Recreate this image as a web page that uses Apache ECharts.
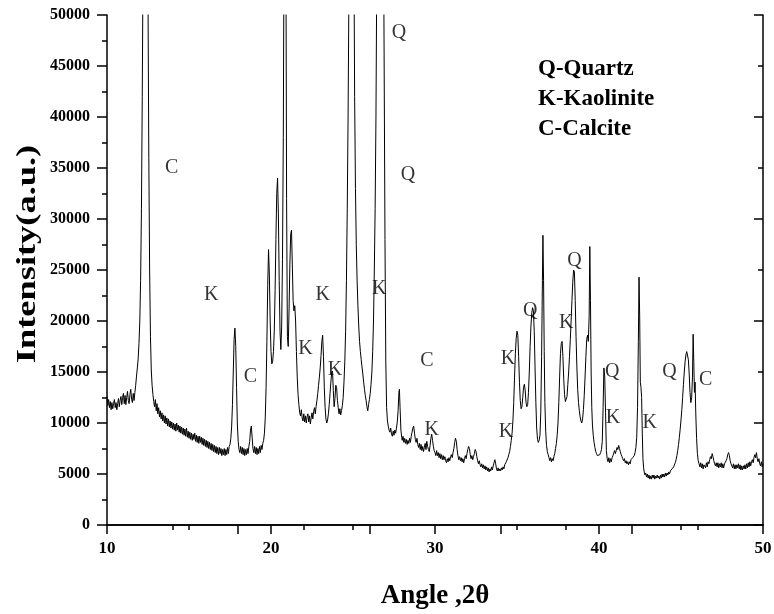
<!DOCTYPE html>
<html>
<head>
<meta charset="utf-8">
<script src="https://cdn.jsdelivr.net/npm/echarts@6/dist/echarts.min.js"></script>
<style>
  html, body { margin: 0; padding: 0; background: #fff; }
  #chart { width: 774px; height: 614px; }
</style>
</head>
<body>
<div id="chart"></div>
<script>
// XRD scan, 2θ (degrees) vs intensity (counts), split by angle range
const scan10to20 = [
  [10.00,12600],[10.05,11700],[10.10,12300],[10.15,11500],[10.20,12100],[10.25,11300],[10.30,12000],[10.35,11400],
  [10.40,11900],[10.45,12300],[10.50,11500],[10.55,12000],[10.60,11300],[10.65,11900],[10.70,12400],[10.75,11600],
  [10.80,12200],[10.85,12600],[10.90,11800],[10.95,12500],[11.00,12900],[11.05,11900],[11.10,12700],[11.15,11800],
  [11.20,12500],[11.25,13100],[11.30,12200],[11.35,11900],[11.40,12800],[11.45,13300],[11.50,12300],[11.55,12000],
  [11.60,12900],[11.65,12200],[11.70,13000],[11.75,13700],[11.80,14600],[11.85,15400],[11.90,16300],[11.95,17800],
  [12.00,20000],[12.05,24000],[12.10,31000],[12.15,42000],[12.20,56000],[12.28,78000],[12.36,85000],[12.44,72000],
  [12.50,52000],[12.55,36000],[12.60,25000],[12.65,18500],[12.70,15200],[12.75,13700],[12.80,12800],[12.85,12100],
  [12.90,11600],[12.95,12300],[13.00,11200],[13.05,11900],[13.10,10900],[13.15,11500],[13.20,10600],[13.25,11200],
  [13.30,10400],[13.35,11000],[13.40,10200],[13.45,10800],[13.50,10000],[13.55,10700],[13.60,9900],[13.65,10500],
  [13.70,9700],[13.75,10400],[13.80,9600],[13.85,10200],[13.90,9500],[13.95,10100],[14.00,9400],[14.05,10000],
  [14.10,9300],[14.15,9900],[14.20,9200],[14.25,10000],[14.30,9300],[14.35,9800],[14.40,9100],[14.45,9700],
  [14.50,9000],[14.55,9600],[14.60,8900],[14.65,9500],[14.70,8800],[14.75,9400],[14.80,8700],[14.85,9500],
  [14.90,8600],[14.95,9200],[15.00,8500],[15.05,9100],[15.10,8400],[15.15,9000],[15.20,8300],[15.25,8900],
  [15.30,8400],[15.35,9000],[15.40,8200],[15.45,8800],[15.50,8100],[15.55,8700],[15.60,8000],[15.65,8700],
  [15.70,8100],[15.75,8600],[15.80,7900],[15.85,8500],[15.90,7800],[15.95,8400],[16.00,7700],[16.05,8300],
  [16.10,7600],[16.15,8200],[16.20,7500],[16.25,8100],[16.30,7400],[16.35,8000],[16.40,7300],[16.45,7900],
  [16.50,7200],[16.55,7800],[16.60,7100],[16.65,7700],[16.70,7000],[16.75,7600],[16.80,6900],[16.85,7600],
  [16.90,7000],[16.95,7500],[17.00,6800],[17.05,7400],[17.10,6900],[17.15,7500],[17.20,6800],[17.25,7400],
  [17.30,6900],[17.35,7600],[17.40,7000],[17.45,7700],[17.50,7900],[17.55,8500],[17.60,9600],[17.65,11800],
  [17.70,15000],[17.75,18200],[17.80,19300],[17.85,17500],[17.90,13500],[17.95,9800],[18.00,8200],[18.05,7400],
  [18.10,7100],[18.15,7700],[18.20,7000],[18.25,7600],[18.30,6900],[18.35,7500],[18.40,6800],[18.45,7400],
  [18.50,6900],[18.55,7500],[18.60,7000],[18.65,7700],[18.70,8200],[18.75,9300],[18.80,9700],[18.85,8600],
  [18.90,7500],[18.95,7100],[19.00,7700],[19.05,7000],[19.10,7600],[19.15,6900],[19.20,7500],[19.25,7000],
  [19.30,7700],[19.35,7100],[19.40,7800],[19.45,7400],[19.50,8000],[19.55,8300],[19.60,9000],[19.65,10500],
  [19.70,13500],[19.75,18000],[19.80,23500],[19.85,27000],[19.90,24500],[19.95,20000]
];
const scan20to30 = [
  [20.00,17000],[20.05,15800],[20.10,16000],[20.15,17000],[20.20,19000],[20.25,23000],[20.30,28000],[20.35,32500],
  [20.40,34000],[20.45,30500],[20.50,24000],[20.55,19000],[20.60,17200],[20.65,19500],[20.70,26000],[20.75,38000],
  [20.80,60000],[20.85,80000],[20.90,62000],[20.95,32000],[21.00,18500],[21.05,17500],[21.10,21000],[21.15,25500],
  [21.20,28500],[21.25,28900],[21.30,25500],[21.35,22000],[21.40,21000],[21.45,21500],[21.50,20000],[21.55,17000],
  [21.60,14500],[21.65,12800],[21.70,11800],[21.75,11000],[21.80,10700],[21.85,11300],[21.90,10500],[21.95,10200],
  [22.00,10900],[22.05,10100],[22.10,10700],[22.15,10000],[22.20,10600],[22.25,10900],[22.30,10100],[22.35,10700],
  [22.40,9900],[22.45,10500],[22.50,11000],[22.55,10400],[22.60,11100],[22.65,11500],[22.70,10900],[22.75,11600],
  [22.80,12200],[22.85,12900],[22.90,13700],[22.95,14500],[23.00,15400],[23.05,16600],[23.10,18000],[23.15,18600],
  [23.20,16500],[23.25,13500],[23.30,11500],[23.35,10400],[23.40,10000],[23.45,10300],[23.50,10900],[23.55,11800],
  [23.60,12900],[23.65,14000],[23.70,14900],[23.75,15100],[23.80,13200],[23.85,11600],[23.90,12400],[23.95,13700],
  [24.00,13500],[24.05,12200],[24.10,11500],[24.15,10900],[24.20,11400],[24.25,10800],[24.30,11200],[24.35,11700],
  [24.40,12500],[24.45,14000],[24.50,16000],[24.55,19000],[24.60,24000],[24.65,31000],[24.70,40000],[24.75,52000],
  [24.82,70000],[24.90,82000],[24.98,76000],[25.05,58000],[25.10,42000],[25.15,33000],[25.20,27500],[25.25,24000],
  [25.30,21500],[25.35,19500],[25.40,18000],[25.45,17000],[25.50,16200],[25.55,15500],[25.60,14800],[25.65,14000],
  [25.70,13300],[25.75,12700],[25.80,12200],[25.85,11600],[25.90,11200],[25.95,11800],[26.00,12300],[26.05,12900],
  [26.10,13800],[26.15,15000],[26.20,17000],[26.25,20000],[26.30,25000],[26.35,31000],[26.40,40000],[26.45,54000],
  [26.55,90000],[26.65,110000],[26.75,95000],[26.85,62000],[26.90,45000],[26.95,28000],[27.00,16000],[27.05,11500],
  [27.10,10200],[27.15,9700],[27.20,9300],[27.25,9100],[27.30,9500],[27.35,8900],[27.40,8700],[27.45,9200],
  [27.50,8800],[27.55,9300],[27.60,9000],[27.65,9500],[27.70,10100],[27.75,11200],[27.80,13000],[27.83,13300],
  [27.87,11500],[27.92,9300],[27.97,8600],[28.00,8300],[28.05,8700],[28.10,8100],[28.15,8500],[28.20,8000],
  [28.25,8400],[28.30,7900],[28.35,8300],[28.40,8000],[28.45,8500],[28.50,8100],[28.55,8700],[28.60,9100],
  [28.65,9500],[28.70,9700],[28.75,9000],[28.80,8400],[28.85,8100],[28.90,8500],[28.95,7900],[29.00,7600],
  [29.05,8000],[29.10,7400],[29.15,7900],[29.20,7300],[29.25,7700],[29.30,7200],[29.35,7600],[29.40,8000],
  [29.45,7400],[29.50,8200],[29.55,7700],[29.60,7400],[29.65,7200],[29.70,7800],[29.75,8500],[29.80,8900],
  [29.85,8300],[29.90,7700],[29.95,7300]
];
const scan30to40 = [
  [30.00,7100],[30.05,6800],[30.10,7300],[30.15,6800],[30.20,7100],[30.25,6600],[30.30,7000],[30.35,6500],
  [30.40,6900],[30.45,6400],[30.50,6800],[30.55,6400],[30.60,6700],[30.65,6300],[30.70,6100],[30.75,6500],
  [30.80,6200],[30.85,6600],[30.90,6300],[30.95,6700],[31.00,6900],[31.05,6600],[31.10,7100],[31.15,7500],
  [31.20,8100],[31.25,8500],[31.30,8200],[31.35,7400],[31.40,6800],[31.45,6400],[31.50,6700],[31.55,6300],
  [31.60,6600],[31.65,6200],[31.70,6500],[31.75,6100],[31.80,6500],[31.85,6800],[31.90,6500],[31.95,7000],
  [32.00,7400],[32.05,7700],[32.10,7500],[32.15,6900],[32.20,6500],[32.25,6800],[32.30,6400],[32.35,6700],
  [32.40,7000],[32.45,7400],[32.50,7200],[32.55,6700],[32.60,6300],[32.65,6000],[32.70,6300],[32.75,5900],
  [32.80,5700],[32.85,6000],[32.90,5600],[32.95,5900],[33.00,5500],[33.05,5800],[33.10,5400],[33.15,5700],
  [33.20,5300],[33.25,5600],[33.30,5200],[33.35,5500],[33.40,5300],[33.45,5700],[33.50,5400],[33.55,5800],
  [33.60,6100],[33.65,6400],[33.70,6000],[33.75,5500],[33.80,5300],[33.85,5600],[33.90,5300],[33.95,5500],
  [34.00,5300],[34.05,5600],[34.10,5400],[34.15,5700],[34.20,5500],[34.25,5900],[34.30,5800],[34.35,6200],
  [34.40,6100],[34.45,6600],[34.50,6900],[34.55,7200],[34.60,7700],[34.65,8300],[34.70,9000],[34.75,10200],
  [34.80,12000],[34.85,14500],[34.90,16800],[34.95,18300],[35.00,19000],[35.05,18600],[35.10,16500],[35.15,14000],
  [35.20,12200],[35.25,11400],[35.30,11600],[35.35,12500],[35.40,13500],[35.45,13800],[35.50,13200],[35.55,12000],
  [35.60,11600],[35.65,11800],[35.70,13000],[35.75,15000],[35.80,17500],[35.85,19500],[35.90,20800],[35.95,21300],
  [36.00,21000],[36.05,19000],[36.10,15500],[36.15,12000],[36.20,9500],[36.25,8400],[36.30,8100],[36.35,8300],
  [36.40,8800],[36.45,11000],[36.50,16500],[36.55,24000],[36.58,28400],[36.62,24000],[36.66,17000],[36.70,12000],
  [36.75,9200],[36.80,7800],[36.85,7200],[36.90,6900],[36.95,6600],[37.00,6300],[37.05,6600],[37.10,6200],
  [37.15,6500],[37.20,6300],[37.25,6700],[37.30,7000],[37.35,7500],[37.40,8000],[37.45,8800],[37.50,10000],
  [37.55,12000],[37.60,14500],[37.65,16800],[37.70,17800],[37.75,18000],[37.80,16500],[37.85,14300],[37.90,12800],
  [37.95,12100],[38.00,12000],[38.05,12600],[38.10,13800],[38.15,15000],[38.20,16500],[38.25,18200],[38.30,20000],
  [38.35,22000],[38.40,23800],[38.45,25000],[38.50,24800],[38.55,22000],[38.60,18500],[38.65,15500],[38.70,13300],
  [38.75,12000],[38.80,11200],[38.85,10600],[38.90,10200],[38.95,10000],[39.00,10400],[39.05,11300],[39.10,12700],
  [39.15,14500],[39.20,16500],[39.25,18200],[39.30,18600],[39.35,18000],[39.40,20500],[39.44,27300],[39.48,22000],
  [39.52,15000],[39.56,11500],[39.60,9800],[39.65,8800],[39.70,8100],[39.75,7600],[39.80,7200],[39.85,7000],
  [39.90,6800],[39.95,6900]
];
const scan40to50 = [
  [40.00,6700],[40.05,6900],[40.10,7100],[40.15,7400],[40.20,8200],[40.25,11500],[40.30,15400],[40.35,14500],
  [40.40,11000],[40.45,7300],[40.50,6500],[40.55,6200],[40.60,6600],[40.65,6100],[40.70,6500],[40.75,6200],
  [40.80,6600],[40.85,6800],[40.90,6900],[40.95,7300],[41.00,7000],[41.05,7300],[41.10,7600],[41.15,7400],
  [41.20,7800],[41.25,7500],[41.30,7200],[41.35,6900],[41.40,6700],[41.45,6500],[41.50,6300],[41.55,6500],
  [41.60,6100],[41.65,6300],[41.70,6000],[41.75,6200],[41.80,5900],[41.85,6200],[41.90,6000],[41.95,6400],
  [42.00,6300],[42.05,6600],[42.10,6500],[42.15,6800],[42.20,7100],[42.25,7600],[42.30,8600],[42.35,11500],
  [42.40,18000],[42.44,24300],[42.48,20500],[42.52,14000],[42.56,13500],[42.60,12500],[42.64,9000],[42.68,6500],
  [42.72,5600],[42.76,5200],[42.80,4900],[42.85,5100],[42.90,4700],[42.95,5000],[43.00,4600],[43.05,4900],
  [43.10,4500],[43.15,4800],[43.20,4500],[43.25,4900],[43.30,4600],[43.35,4900],[43.40,4500],[43.45,4800],
  [43.50,4600],[43.55,4900],[43.60,4600],[43.65,4800],[43.70,4500],[43.75,4900],[43.80,4600],[43.85,5000],
  [43.90,4700],[43.95,5000],[44.00,4700],[44.05,5100],[44.10,4800],[44.15,5100],[44.20,4900],[44.25,5200],
  [44.30,5000],[44.35,5300],[44.40,5200],[44.45,5500],[44.50,5400],[44.55,5700],[44.60,5800],[44.65,6100],
  [44.70,6400],[44.75,6800],[44.80,7300],[44.85,7900],[44.90,8600],[44.95,9400],[45.00,10300],[45.05,11300],
  [45.10,12500],[45.15,13800],[45.20,15000],[45.25,16000],[45.30,16700],[45.35,17000],[45.40,16900],[45.45,16200],
  [45.50,14800],[45.55,13000],[45.60,12000],[45.65,12500],[45.70,14500],[45.74,18700],[45.78,16000],[45.82,13000],
  [45.86,14000],[45.90,11000],[45.95,8500],[46.00,7000],[46.05,6300],[46.10,6000],[46.15,5700],[46.20,6100],
  [46.25,5600],[46.30,6000],[46.35,5500],[46.40,5900],[46.45,6000],[46.50,5600],[46.55,6100],[46.60,5700],
  [46.65,6200],[46.70,6000],[46.75,6400],[46.80,6700],[46.85,6500],[46.90,7000],[46.95,6700],[47.00,6300],
  [47.05,6000],[47.10,5800],[47.15,6100],[47.20,5700],[47.25,6100],[47.30,5600],[47.35,6000],[47.40,5700],
  [47.45,6100],[47.50,5600],[47.55,6000],[47.60,5600],[47.65,6000],[47.70,6100],[47.75,6300],[47.80,6500],
  [47.85,6900],[47.90,7100],[47.95,6800],[48.00,6300],[48.05,6000],[48.10,5900],[48.15,5600],[48.20,6000],
  [48.25,5500],[48.30,5900],[48.35,5500],[48.40,5900],[48.45,5600],[48.50,6000],[48.55,5500],[48.60,5900],
  [48.65,5400],[48.70,5800],[48.75,5400],[48.80,5800],[48.85,5500],[48.90,5900],[48.95,5500],[49.00,6000],
  [49.05,5600],[49.10,6100],[49.15,5700],[49.20,6200],[49.25,5800],[49.30,6200],[49.35,6400],[49.40,6100],
  [49.45,6600],[49.50,6900],[49.55,6600],[49.60,7100],[49.65,6500],[49.70,6200],[49.75,6500],[49.80,6000],
  [49.85,5800],[49.90,6200],[49.95,5700],[50.00,6000]
];

// Phase tags placed beside the reflections: [2θ, intensity, letter]
const phaseTags = [
  [13.95,35000,'C'],[16.35,22600,'K'],[18.75,14500,'C'],[22.1,17300,'K'],[23.15,22600,'K'],
  [23.9,15200,'K'],[26.6,23200,'K'],[27.8,48300,'Q'],[28.35,34300,'Q'],[29.5,16100,'C'],
  [29.8,9300,'K'],[34.33,9100,'K'],[34.45,16300,'K'],[35.8,21000,'Q'],[38.0,19800,'K'],
  [38.5,25900,'Q'],[40.8,15000,'Q'],[40.85,10500,'K'],[43.1,10000,'K'],[44.3,15000,'Q'],
  [46.5,14200,'C']
];
const phaseKey = ['Q-Quartz', 'K-Kaolinite', 'C-Calcite'];

const xTickLabels = [10, 20, 30, 40, 50];
const yTickStep = 5000;
const yTitle = 'Intensity(a.u.)';
const xTitle = 'Angle ,2θ';

const pattern = scan10to20.concat(scan20to30, scan30to40, scan40to50);

const serif = "'Liberation Serif', 'Times New Roman', serif";
const black = '#000';
const frameLine = { show: true, lineStyle: { color: black, width: 1.5 } };
const tickStyle = { color: black, width: 1.5 };

const chart = echarts.init(document.getElementById('chart'));
chart.setOption({
  animation: false,
  backgroundColor: '#fff',
  grid: { left: 107, top: 15, width: 656, height: 510, containLabel: false, outerBoundsMode: 'none' },
  xAxis: [
    {
      type: 'value', position: 'bottom', min: xTickLabels[0], max: xTickLabels[xTickLabels.length - 1], interval: 10,
      axisLine: frameLine,
      axisTick: { show: true, inside: false, length: 9, lineStyle: tickStyle },
      minorTick: { show: true, splitNumber: 2, length: 5, lineStyle: tickStyle },
      splitLine: { show: false },
      axisLabel: { color: black, fontFamily: serif, fontWeight: 'bold', fontSize: 17, margin: 15 },
      name: xTitle, nameLocation: 'middle', nameGap: 58,
      nameTextStyle: { color: black, fontFamily: serif, fontWeight: 'bold', fontSize: 27 }
    },
    {
      // mirrored frame edge along the top
      type: 'value', position: 'top', min: 0, max: 10, interval: 2,
      axisLine: frameLine,
      axisTick: { show: true, inside: true, length: 9, lineStyle: tickStyle },
      minorTick: { show: true, splitNumber: 2, length: 5, lineStyle: tickStyle },
      splitLine: { show: false }, axisLabel: { show: false }
    }
  ],
  yAxis: [
    {
      type: 'value', position: 'left', min: 0, max: 50000, interval: yTickStep,
      axisLine: frameLine,
      axisTick: { show: true, inside: false, length: 10, lineStyle: tickStyle },
      minorTick: { show: true, splitNumber: 2, length: 5, lineStyle: tickStyle },
      splitLine: { show: false },
      axisLabel: {
        color: black, fontFamily: serif, fontWeight: 'bold', fontSize: 16, margin: 17,
        formatter: v => String(v)
      }
    },
    {
      // mirrored frame edge on the right
      type: 'value', position: 'right', min: 0, max: 10, interval: 2,
      axisLine: frameLine,
      axisTick: { show: true, inside: true, length: 9, lineStyle: tickStyle },
      minorTick: { show: true, splitNumber: 2, length: 5, lineStyle: tickStyle },
      splitLine: { show: false }, axisLabel: { show: false }
    }
  ],
  series: [
    {
      type: 'line', xAxisIndex: 0, yAxisIndex: 0, data: pattern,
      showSymbol: false, symbol: 'none', clip: true,
      lineStyle: { color: black, width: 1 }
    },
    {
      type: 'scatter', xAxisIndex: 0, yAxisIndex: 0, data: phaseTags,
      symbol: 'circle', symbolSize: 1, itemStyle: { color: 'rgba(0,0,0,0)' },
      label: {
        show: true, position: 'inside', formatter: p => p.value[2],
        color: black, fontFamily: serif, fontSize: 20
      },
      silent: true
    }
  ],
  graphic: [
    {
      // vertical axis title, drawn tall and narrow
      type: 'text', x: 28, y: 254, rotation: Math.PI / 2, scaleX: 1.3,
      style: {
        text: yTitle, fill: black, align: 'center', verticalAlign: 'middle',
        font: "bold 28px 'Liberation Serif', serif"
      }
    },
    {
      type: 'text', left: 538, top: 54,
      style: {
        text: phaseKey.join('\n'), fill: black,
        font: "bold 23px 'Liberation Serif', serif", lineHeight: 30
      }
    }
  ]
});
</script>
</body>
</html>
